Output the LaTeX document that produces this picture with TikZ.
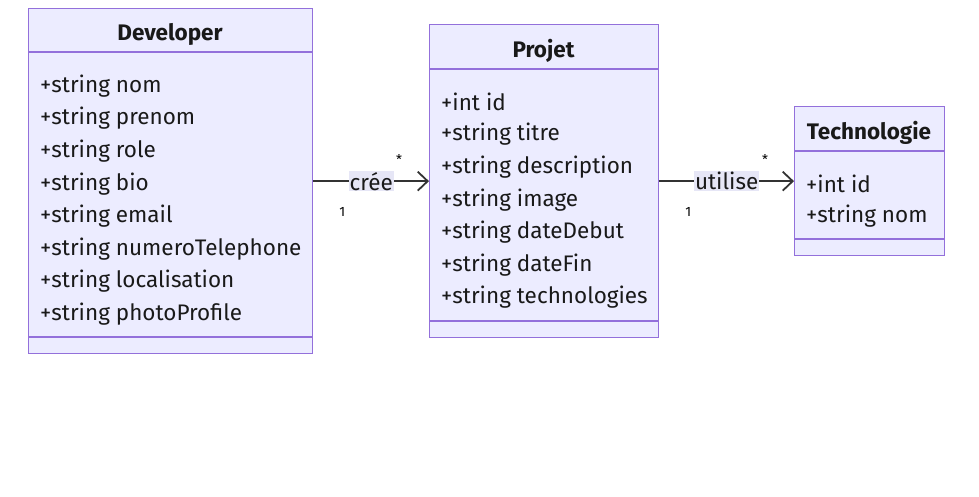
\documentclass[tikz,border=0pt]{standalone}
\usepackage{fontspec}
\setmainfont{Fira Sans}
\usetikzlibrary{arrows.meta}
\definecolor{classfill}{HTML}{ECECFF}
\definecolor{classline}{HTML}{9370DB}
\definecolor{edgeline}{HTML}{333333}
\definecolor{labelbg}{HTML}{E6E6F6}
\tikzset{classbox/.style={draw=classline, fill=classfill, line width=1.3pt, inner sep=0pt, anchor=north west},
         classsep/.style={classline, line width=1.3pt},
         classtitle/.style={font=\fontsize{22.5}{26}\selectfont\bfseries, text=black!90},
         attr/.style={anchor=west, inner sep=0pt, font=\fontsize{22.5}{26}\selectfont, text=black!90},
         edge/.style={edgeline, line width=1.8pt, -{Straight Barb[length=10pt,width=19pt,line width=1.8pt]}},
         edgelabel/.style={fill=labelbg, inner sep=1pt, font=\fontsize{22.5}{26}\selectfont, text=black!90},
         mult/.style={inner sep=0pt, font=\fontsize{13.5}{16}\selectfont}}

\begin{document}
\begin{tikzpicture}[x=1pt,y=-1pt]
   \useasboundingbox (0,0) rectangle (979,496);
   % Developer
   \node[classbox, minimum width=284pt, minimum height=345pt] (dev) at (28,8) {};
   \draw[classsep] (28,52) -- (312,52);
   \draw[classsep] (28,337) -- (312,337);
   \node[classtitle] (dev-title) at (170,34) {Developer};
   \foreach \t [count=\i] in {+string nom, +string prenom, +string role, +string bio, +string email,
                              +string numeroTelephone, +string localisation, +string photoProfile}
     \node[attr] (dev-\i) at (40,{86+32.6*(\i-1)}) {\t};
   % Projet
   \node[classbox, minimum width=229pt, minimum height=313pt] (proj) at (429,24) {};
   \draw[classsep] (429,69) -- (658,69);
   \draw[classsep] (429,321) -- (658,321);
   \node[classtitle] (proj-title) at (543.5,51) {Projet};
   \foreach \t [count=\i] in {+int id, +string titre, +string description, +string image,
                              +string dateDebut, +string dateFin, +string technologies}
     \node[attr] (proj-\i) at (441,{102+32.6*(\i-1)}) {\t};
   % Technologie
   \node[classbox, minimum width=150pt, minimum height=149pt] (tech) at (794,106) {};
   \draw[classsep] (794,151) -- (944,151);
   \draw[classsep] (794,239) -- (944,239);
   \node[classtitle] (tech-title) at (869,133) {Technologie};
   \foreach \t [count=\i] in {+int id, +string nom}
     \node[attr] (tech-\i) at (806,{184+32.6*(\i-1)}) {\t};
   % relations
   \draw[edge] (dev.east) -- node[edgelabel] (cree) {crée} (proj.west);
   \node[mult] (cree-src) at ([shift={(29,31)}]dev.east) {1};
   \node[mult] (cree-dst) at ([shift={(-30,-22)}]proj.west) {*};
   \draw[edge] (proj.east) -- node[edgelabel] (utilise) {utilise} (tech.west);
   \node[mult] (utilise-src) at ([shift={(29,31)}]proj.east) {1};
   \node[mult] (utilise-dst) at ([shift={(-29,-22)}]tech.west) {*};
\end{tikzpicture}
\end{document}
